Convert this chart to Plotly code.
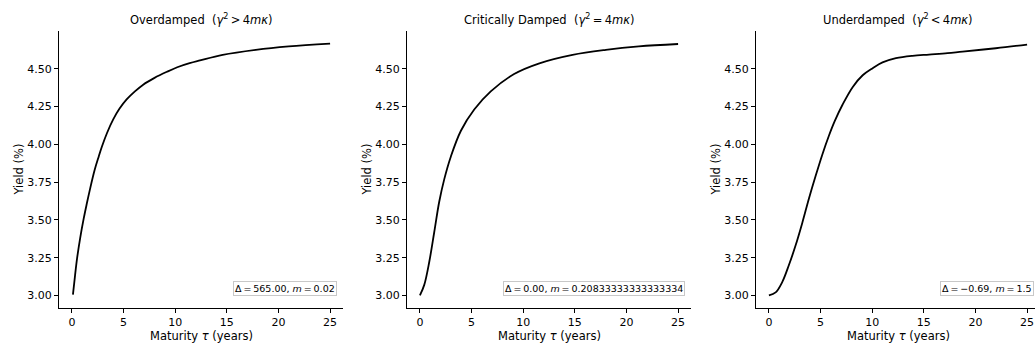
import plotly.graph_objects as go

# ---- data ----
tau_over = [0.1, 0.3, 0.5, 0.8, 1.14, 1.45, 1.72, 2.2, 2.6, 2.9, 3.4, 4.0, 4.6, 5.3, 6.1, 6.9,
            8.0, 9.2, 10.2, 11.4, 12.4, 14.6, 17.8, 21.0, 25.0]
yield_over = [3.005, 3.13, 3.245, 3.38, 3.508, 3.61, 3.694, 3.83, 3.92, 3.984, 4.075, 4.165, 4.235,
              4.297, 4.35, 4.395, 4.44, 4.48, 4.51, 4.537, 4.555, 4.592, 4.625, 4.648, 4.667]

tau_crit = [0.0, 0.42, 0.9, 1.39, 1.87, 2.36, 3.0, 3.97, 5.26, 6.86, 9.12, 11.57, 14.78, 18.0, 21.2, 25.0]
yield_crit = [3.0, 3.07, 3.22, 3.42, 3.62, 3.77, 3.92, 4.09, 4.23, 4.35, 4.465, 4.536, 4.592, 4.625,
              4.648, 4.664]

tau_under = [0.0, 0.65, 1.3, 1.93, 2.58, 3.23, 3.87, 4.52, 5.16, 5.8, 6.35, 7.15, 8.12, 9.08, 10.05,
             11.0, 12.3, 13.9, 15.5, 17.3, 18.75, 21.97, 25.0]
yield_under = [3.0, 3.02, 3.09, 3.20, 3.33, 3.48, 3.64, 3.79, 3.93, 4.055, 4.15, 4.265, 4.38, 4.457,
               4.504, 4.542, 4.570, 4.586, 4.594, 4.603, 4.614, 4.636, 4.66]

NB = "\u00a0"
TH = "\u2009"
titles = [
    f"Overdamped{NB}{NB}(<i>γ</i><sup>2</sup>{TH}>{TH}4<i>mκ</i>)",
    f"Critically Damped{NB}{NB}(<i>γ</i><sup>2</sup>{TH}={TH}4<i>mκ</i>)",
    f"Underdamped{NB}{NB}(<i>γ</i><sup>2</sup>{TH}<{TH}4<i>mκ</i>)",
]
box_texts = [
    f"Δ{TH}={TH}565.00, <i>m</i>{TH}={TH}0.02",
    f"Δ{TH}={TH}0.00, <i>m</i>{TH}={TH}0.20833333333333334",
    f"Δ{TH}={TH}−0.69, <i>m</i>{TH}={TH}1.5",
]
y_ticks = [3.00, 3.25, 3.50, 3.75, 4.00, 4.25, 4.50]
x_ticks = [0, 5, 10, 15, 20, 25]

series = [(tau_over, yield_over), (tau_crit, yield_crit), (tau_under, yield_under)]

W, H = 1035, 345
FONT = "DejaVu Sans"
ax_left = [59, 407, 756]
ax_right = [343, 691, 1035]
full_right = [343, 691, 1040]  # panel 3 is clipped by the figure edge
top, bottom = 31, 308
plot_h = bottom - top

fig = go.Figure()
annotations = []
for i, (tx, ty) in enumerate(series):
    n = "" if i == 0 else str(i + 1)
    fig.add_trace(go.Scatter(
        x=tx, y=ty, mode="lines",
        line=dict(color="black", width=1.8, shape="spline", smoothing=1.0),
        xaxis="x" + n, yaxis="y" + n, showlegend=False, hoverinfo="skip",
    ))
    width_px = ax_right[i] - ax_left[i]
    px_per_unit = (full_right[i] - ax_left[i]) / 27.5
    xr = [-1.25, -1.25 + width_px / px_per_unit]
    common = dict(showline=True, linecolor="black", linewidth=1, ticks="outside",
                  ticklen=4, tickwidth=1, tickcolor="black", showgrid=False, zeroline=False,
                  tickfont=dict(family=FONT, size=11, color="black"))
    fig.update_layout(**{
        "xaxis" + n: dict(domain=[ax_left[i] / W, ax_right[i] / W], range=xr,
                          tickvals=x_ticks, anchor="y" + n, **common),
        "yaxis" + n: dict(domain=[0, 1], range=[2.917, 4.75], tickvals=y_ticks,
                          tickformat=".2f", anchor="x" + n, **common),
    })
    cx = ((ax_left[i] + full_right[i]) / 2 - ax_left[i]) / width_px
    annotations.append(dict(text=titles[i], xref="x" + n + " domain", yref="paper",
                            x=cx, y=1 + 12 / plot_h, xanchor="center", yanchor="middle",
                            showarrow=False, font=dict(family=FONT, size=11.5, color="black")))
    annotations.append(dict(text="Maturity <i>τ</i> (years)", xref="x" + n + " domain", yref="paper",
                            x=cx, y=-28 / plot_h, xanchor="center", yanchor="middle",
                            showarrow=False, font=dict(family=FONT, size=11.5, color="black")))
    annotations.append(dict(text="Yield (%)", xref="x" + n + " domain", yref="paper",
                            x=-41 / width_px, y=0.5, xanchor="center", yanchor="middle",
                            textangle=-90, showarrow=False,
                            font=dict(family=FONT, size=11.5, color="black")))
    bx = (full_right[i] - 6 - ax_left[i]) / width_px
    annotations.append(dict(text=box_texts[i], xref="x" + n + " domain", yref="paper",
                            x=bx, y=12 / plot_h, xanchor="right", yanchor="bottom",
                            showarrow=False, bgcolor="white", bordercolor="#c8c8c8",
                            borderwidth=1, borderpad=1,
                            font=dict(family=FONT, size=9.5, color="black")))

fig.update_layout(width=W, height=H, margin=dict(l=0, r=0, t=top, b=H - bottom),
                  plot_bgcolor="white", paper_bgcolor="white", annotations=annotations)
fig.write_html("out.html", config={"displayModeBar": False},
               post_script="document.body.style.margin='0';document.body.style.overflow='hidden';")
